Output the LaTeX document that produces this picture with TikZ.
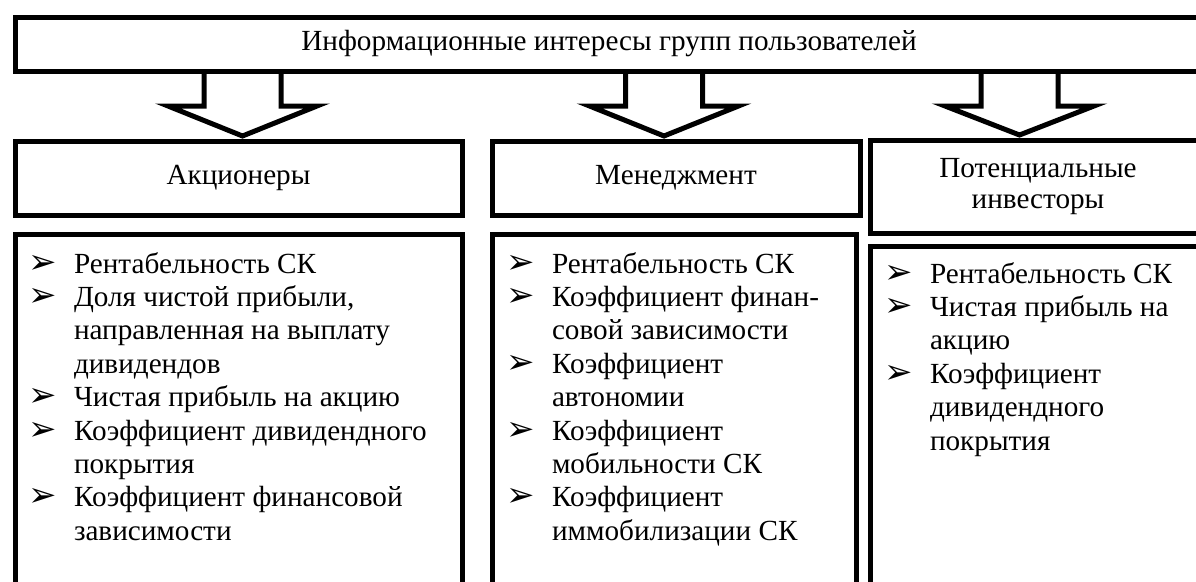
\documentclass[tikz,border=0pt]{standalone}
\usepackage{fontspec}
\setmainfont{Liberation Serif}
\newfontfamily\dejavu{DejaVu Sans}
\usetikzlibrary{calc}
\newcommand{\bul}{\makebox[46pt][l]{\raisebox{0pt}{\dejavu\fontsize{34}{34}\selectfont ➢}}}
\newcommand{\barrow}[3]{%
  \draw[blockarrow] ($(#1 |- #2.south)+(-38.5,0)$) -- ++(0,35) -- ++(-36,0)
    -- ($(#1 |- #3.north)+(0,-5)$) -- ($(#1 |- #2.south)+(74.5,35)$)
    -- ++(-36,0) -- ++(0,-35);}
\tikzset{
  frame/.style={draw, line width=5pt, rectangle, inner sep=0pt, outer sep=0pt,
    align=center, font=\fontsize{29.2}{31}\selectfont},
  blockarrow/.style={draw, line width=5pt, line join=miter},
  itemlist/.style={inner sep=0pt, outer sep=0pt, anchor=base west,
    font=\fontsize{29.2}{33.4}\selectfont}
}
\begin{document}
\begin{tikzpicture}[x=1pt, y=-1pt]
\useasboundingbox (0,0) rectangle (1196,581);
\clip (0,0) rectangle (1196,581);

\node[frame, minimum width=1188pt, minimum height=54pt] (top) at (609,44)
  {Информационные интересы групп пользователей};

\node[frame, minimum width=447pt, minimum height=74pt] (acc) at (238.5,178) {Акционеры};
\node[frame, minimum width=368pt, minimum height=74pt] (man) at (676,178) {Менеджмент};
\node[frame, minimum width=336pt, minimum height=93pt] (inv) at (1038,186.5)
  {Потенциальные\\инвесторы};

\node[frame, minimum width=447pt, minimum height=406pt] (accl) at (238.5,437) {};
\node[frame, minimum width=364pt, minimum height=406pt] (manl) at (674,437) {};
\node[frame, minimum width=336pt, minimum height=394pt] (invl) at (1038,443) {};

\coordinate (a1) at (242.5,0);
\coordinate (a2) at (664,0);
\coordinate (a3) at (1019.5,0);
\barrow{a1}{top}{acc}
\barrow{a2}{top}{man}
\barrow{a3}{top}{inv}

\node[itemlist] (t1) at (28,273) {\begin{tabular}[t]{@{}l@{}l@{}}
\bul & Рентабельность СК\\
\bul & Доля чистой прибыли,\\
 & направленная на выплату\\
 & дивидендов\\
\bul & Чистая прибыль на акцию\\
\bul & Коэффициент дивидендного\\
 & покрытия\\
\bul & Коэффициент финансовой\\
 & зависимости
\end{tabular}};

\node[itemlist] (t2) at (506,273) {\begin{tabular}[t]{@{}l@{}l@{}}
\bul & Рентабельность СК\\
\bul & Коэффициент финан-\\
 & совой зависимости\\
\bul & Коэффициент\\
 & автономии\\
\bul & Коэффициент\\
 & мобильности СК\\
\bul & Коэффициент\\
 & иммобилизации СК
\end{tabular}};

\node[itemlist] (t3) at (884,283) {\begin{tabular}[t]{@{}l@{}l@{}}
\bul & Рентабельность СК\\
\bul & Чистая прибыль на\\
 & акцию\\
\bul & Коэффициент\\
 & дивидендного\\
 & покрытия
\end{tabular}};
\end{tikzpicture}
\end{document}
